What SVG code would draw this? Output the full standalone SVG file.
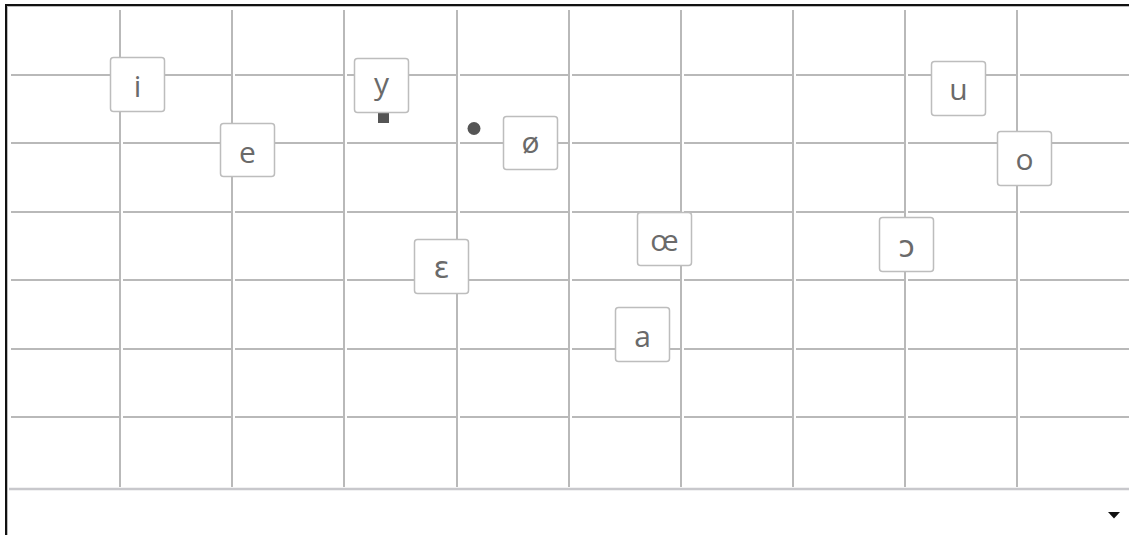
<svg xmlns="http://www.w3.org/2000/svg" width="1129" height="535" viewBox="0 0 1129 535">
<style>
.g{stroke:#b9b9b9;stroke-width:2;fill:none}
.box{fill:#fff;stroke:#bdbdbd;stroke-width:1.5}
.lbl{font-family:"Open Sans","DejaVu Sans",sans-serif;font-size:30px;font-weight:400;fill:#6a6a6a;text-anchor:middle}
.mk{fill:#555}
</style>
<rect width="1129" height="535" fill="#fff"/>
<g id="frame">
<line x1="6" y1="5" x2="1129" y2="5" stroke="#111" stroke-width="2"/>
<line x1="7" y1="6.5" x2="1129" y2="6.5" stroke="#bbb" stroke-width="1"/>
<line x1="6" y1="4" x2="6" y2="535" stroke="#111" stroke-width="2"/>
<line x1="7.5" y1="6" x2="7.5" y2="535" stroke="#bbb" stroke-width="1"/>
<line x1="9" y1="489" x2="1129" y2="489" stroke="#c8c8cc" stroke-width="2.5"/>
<polygon points="1108,512 1120,512 1114,518.5" fill="#111"/>
</g>
<g id="grid">
<g class="g">
<line x1="120" y1="10" x2="120" y2="487"/>
<line x1="232" y1="10" x2="232" y2="487"/>
<line x1="344" y1="10" x2="344" y2="487"/>
<line x1="457" y1="10" x2="457" y2="487"/>
<line x1="569" y1="10" x2="569" y2="487"/>
<line x1="681" y1="10" x2="681" y2="487"/>
<line x1="793" y1="10" x2="793" y2="487"/>
<line x1="905" y1="10" x2="905" y2="487"/>
<line x1="1017" y1="10" x2="1017" y2="487"/>
</g>
<g class="g" id="hlines">
<path d="M11 75H120M123 75H232M235 75H344M347 75H457M460 75H569M572 75H681M684 75H793M796 75H905M908 75H1017M1020 75H1129"/>
<path d="M11 143H120M123 143H232M235 143H344M347 143H457M460 143H569M572 143H681M684 143H793M796 143H905M908 143H1017M1020 143H1129"/>
<path d="M11 212H120M123 212H232M235 212H344M347 212H457M460 212H569M572 212H681M684 212H793M796 212H905M908 212H1017M1020 212H1129"/>
<path d="M11 280H120M123 280H232M235 280H344M347 280H457M460 280H569M572 280H681M684 280H793M796 280H905M908 280H1017M1020 280H1129"/>
<path d="M11 349H120M123 349H232M235 349H344M347 349H457M460 349H569M572 349H681M684 349H793M796 349H905M908 349H1017M1020 349H1129"/>
<path d="M11 417H120M123 417H232M235 417H344M347 417H457M460 417H569M572 417H681M684 417H793M796 417H905M908 417H1017M1020 417H1129"/>
</g>
</g>
<g id="markers">
<rect class="mk" x="378" y="113" width="11" height="10"/>
<circle class="mk" cx="474" cy="128.5" r="6.5"/>
</g>
<g id="node-i"><rect class="box" x="110.5" y="57.5" width="54" height="54" rx="3"/><text class="lbl" x="137.5" y="97">i</text></g>
<g id="node-e"><rect class="box" x="220.5" y="123.5" width="54" height="53" rx="3"/><text class="lbl" x="247.5" y="163">e</text></g>
<g id="node-y"><rect class="box" x="354.5" y="58.5" width="54" height="54" rx="3"/><text class="lbl" x="381.5" y="94">y</text></g>
<g id="node-oslash"><rect class="box" x="503.5" y="116.5" width="54" height="53" rx="3"/><text class="lbl" x="530.5" y="153">ø</text></g>
<g id="node-epsilon"><rect class="box" x="414.5" y="239.5" width="54" height="54" rx="3"/><text class="lbl" x="441.5" y="278">ɛ</text></g>
<g id="node-oe"><rect class="box" x="637.5" y="212.5" width="54" height="53" rx="3"/><text class="lbl" x="664.5" y="251">œ</text></g>
<g id="node-a"><rect class="box" x="615.5" y="307.5" width="54" height="54" rx="3"/><text class="lbl" x="642.5" y="347">a</text></g>
<g id="node-u"><rect class="box" x="931.5" y="61.5" width="54" height="54" rx="3"/><text class="lbl" x="958.5" y="100">u</text></g>
<g id="node-o"><rect class="box" x="997.5" y="131.5" width="54" height="54" rx="3"/><text class="lbl" x="1024.5" y="170">o</text></g>
<g id="node-openo"><rect class="box" x="879.5" y="217.5" width="54" height="54" rx="3"/><text class="lbl" x="906.5" y="257">ɔ</text></g>
</svg>
